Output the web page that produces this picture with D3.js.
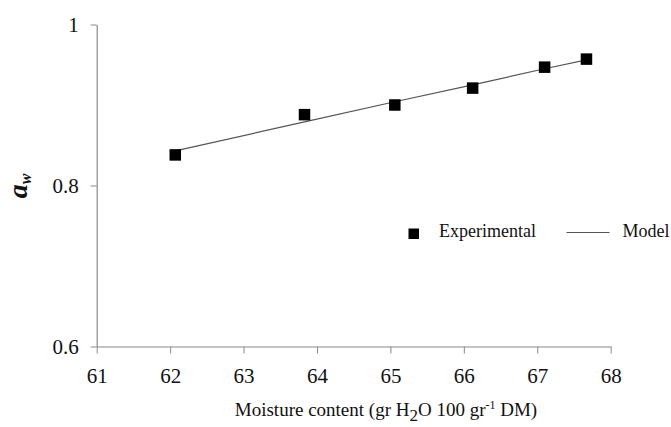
<!DOCTYPE html>
<html>
<head>
<meta charset="utf-8">
<script src="https://cdn.jsdelivr.net/npm/d3@7"></script>
<style>
  body { margin: 0; background: #fff; }
  svg, svg text { font-family: "Liberation Serif", "Times New Roman", serif !important; }
</style>
</head>
<body>
<div id="chart"></div>
<script>
// valores
const umidade = [62.07, 63.83, 65.06, 66.12, 67.10, 67.67];
const awExp = [0.838, 0.888, 0.900, 0.921, 0.947, 0.957];
const modeloX = [62.07, 63.83, 65.06, 66.12, 67.10, 67.67];
const modeloY = [0.843, 0.879, 0.904, 0.925, 0.945, 0.956];
const ticksX = [61, 62, 63, 64, 65, 66, 67, 68];
const ticksY = [0.6, 0.8, 1];

const width = 671, height = 427;
const margins = { top: 24.5, right: 60.3, bottom: 80.5, left: 96.7 };

const svg = d3.select("#chart").append("svg")
    .attr("width", width)
    .attr("height", height);

const x = d3.scaleLinear().domain([61, 68]).range([margins.left, width - margins.right]);
const y = d3.scaleLinear().domain([0.6, 1]).range([height - margins.bottom, margins.top]);

const corEixo = "#8a8a8a";

// eixo x
const eixoX = svg.append("g")
    .attr("transform", `translate(0, ${y(0.6)})`)
    .call(d3.axisBottom(x).tickValues(ticksX).tickSize(7).tickPadding(15).tickSizeOuter(0).tickFormat(d3.format("d")));

// eixo y
const eixoY = svg.append("g")
    .attr("transform", `translate(${x(61)}, 0)`)
    .call(d3.axisLeft(y).tickValues(ticksY).tickSize(6).tickPadding(12).tickSizeOuter(0).tickFormat(d => d === 1 ? "1" : d3.format(".1f")(d)));

[eixoX, eixoY].forEach(g => {
  g.attr("font-family", null).attr("font-size", null);
  g.select(".domain").attr("stroke", corEixo).attr("stroke-width", 1.2);
  g.selectAll(".tick line").attr("stroke", corEixo);
  g.selectAll(".tick text")
      .attr("fill", "#111")
      .style("font-size", "21px");
});

// linha do modelo
const linha = d3.line()
    .x((d, i) => x(modeloX[i]))
    .y(d => y(d));

svg.append("path")
    .datum(modeloY)
    .attr("d", linha)
    .attr("fill", "none")
    .attr("stroke", "#555")
    .attr("stroke-width", 1.2);

// pontos experimentais
const lado = 11.5;
svg.selectAll("rect.ponto")
    .data(awExp)
    .enter()
    .append("rect")
    .attr("class", "ponto")
    .attr("x", (d, i) => x(umidade[i]) - lado / 2)
    .attr("y", d => y(d) - lado / 2)
    .attr("width", lado)
    .attr("height", lado)
    .attr("fill", "#000");

// legenda
const leg = svg.append("g").attr("font-size", "18px").attr("fill", "#111");
leg.append("rect")
    .attr("x", 408.5).attr("y", 228.5)
    .attr("width", 10.5).attr("height", 10.5)
    .attr("fill", "#000");
leg.append("text").attr("x", 439).attr("y", 237).text("Experimental");
leg.append("line")
    .attr("x1", 566.5).attr("x2", 609.5)
    .attr("y1", 232.5).attr("y2", 232.5)
    .attr("stroke", "#555").attr("stroke-width", 1);
leg.append("text").attr("x", 622.5).attr("y", 237).text("Model");

// título do eixo x
const titulo = svg.append("text")
    .attr("x", 386)
    .attr("y", 416)
    .attr("text-anchor", "middle")
    .attr("font-size", "19px")
    .attr("fill", "#111");
titulo.append("tspan").text("Moisture content (gr H");
titulo.append("tspan").attr("dy", 5).attr("font-size", "17px").text("2");
titulo.append("tspan").attr("dy", -5).text("O 100 gr");
titulo.append("tspan").attr("dy", -7).attr("font-size", "12px").text("-1");
titulo.append("tspan").attr("dy", 7).text(" DM)");

// título do eixo y
const tituloY = svg.append("text")
    .attr("transform", "translate(27, 186) rotate(-90)")
    .attr("text-anchor", "middle")
    .attr("font-weight", "bold")
    .attr("font-style", "italic")
    .attr("fill", "#111");
tituloY.append("tspan").attr("font-size", "28px").text("a");
tituloY.append("tspan").attr("font-size", "16px").attr("dy", 4).text("w");
</script>
</body>
</html>
